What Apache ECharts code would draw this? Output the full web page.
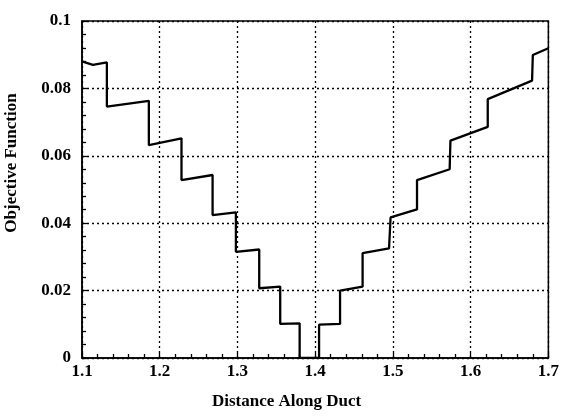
<!DOCTYPE html>
<html>
<head>
<meta charset="utf-8">
<script src="https://cdn.jsdelivr.net/npm/echarts@6/dist/echarts.min.js"></script>
<style>
  html, body { margin: 0; padding: 0; background: #fff; }
  #chart { width: 562px; height: 420px; }
</style>
</head>
<body>
<div id="chart"></div>
<script>
// step curve (distance, objective)
const distance = [
  1.100, 1.114, 1.132, 1.132, 1.186, 1.186, 1.228, 1.228, 1.268, 1.268,
  1.298, 1.298, 1.328, 1.328, 1.355, 1.355, 1.380, 1.380, 1.405, 1.405,
  1.432, 1.432, 1.461, 1.461, 1.495, 1.497, 1.531, 1.531, 1.573, 1.574,
  1.622, 1.622, 1.679, 1.680, 1.700
];
const objective = [
  0.0880, 0.0870, 0.0877, 0.0746, 0.0763, 0.0632, 0.0652, 0.0528, 0.0543, 0.0424,
  0.0432, 0.0315, 0.0322, 0.0207, 0.0212, 0.0101, 0.0103, 0.0000, 0.0000, 0.0099,
  0.0101, 0.0200, 0.0212, 0.0311, 0.0325, 0.0417, 0.0441, 0.0528, 0.0560, 0.0645,
  0.0686, 0.0768, 0.0823, 0.0899, 0.0919
];
const xName = 'Distance Along Duct';
const yName = 'Objective Function';

const font = 'Liberation Serif';
const chart = echarts.init(document.getElementById('chart'));

const gridLine = { show: true, lineStyle: { color: '#000', width: 1.3, type: [2, 3] } };

chart.setOption({
  animation: false,
  backgroundColor: '#fff',
  grid: { left: 82, right: 12, top: 21, bottom: 62, show: true, borderColor: '#000', borderWidth: 1.5 },
  xAxis: {
    type: 'value', min: 1.1, max: 1.7, interval: 0.1,
    axisLine: { lineStyle: { color: '#000', width: 1.5 } },
    axisTick: { inside: true, length: 5, lineStyle: { color: '#000', width: 1.3 } },
    minorTick: { show: true, splitNumber: 5, length: 4, lineStyle: { color: '#000', width: 1.3 } },
    splitLine: gridLine,
    axisLabel: { color: '#000', fontFamily: font, fontSize: 17, fontWeight: 'bold', margin: 5,
      formatter: v => v.toFixed(1) }
  },
  yAxis: {
    type: 'value', min: 0, max: 0.1, interval: 0.02,
    axisLine: { show: true, lineStyle: { color: '#000', width: 1.5 } },
    axisTick: { show: true, inside: true, length: 5, lineStyle: { color: '#000', width: 1.3 } },
    minorTick: { show: true, splitNumber: 5, length: 4, lineStyle: { color: '#000', width: 1.3 } },
    splitLine: gridLine,
    axisLabel: { color: '#000', fontFamily: font, fontSize: 17, fontWeight: 'bold', margin: 11 }
  },
  graphic: [
    { type: 'text', left: 212, top: 393,
      style: { text: xName, fill: '#000', font: 'bold 17px "Liberation Serif"' } },
    { type: 'text', x: 12, y: 163, rotation: Math.PI / 2,
      style: { text: yName, fill: '#000', font: 'bold 17px "Liberation Serif"', align: 'center', verticalAlign: 'middle' } }
  ],
  series: [{
    type: 'line',
    data: distance.map((d, i) => [d, objective[i]]),
    showSymbol: false,
    lineStyle: { color: '#000', width: 2.3 }
  }]
});
</script>
</body>
</html>
